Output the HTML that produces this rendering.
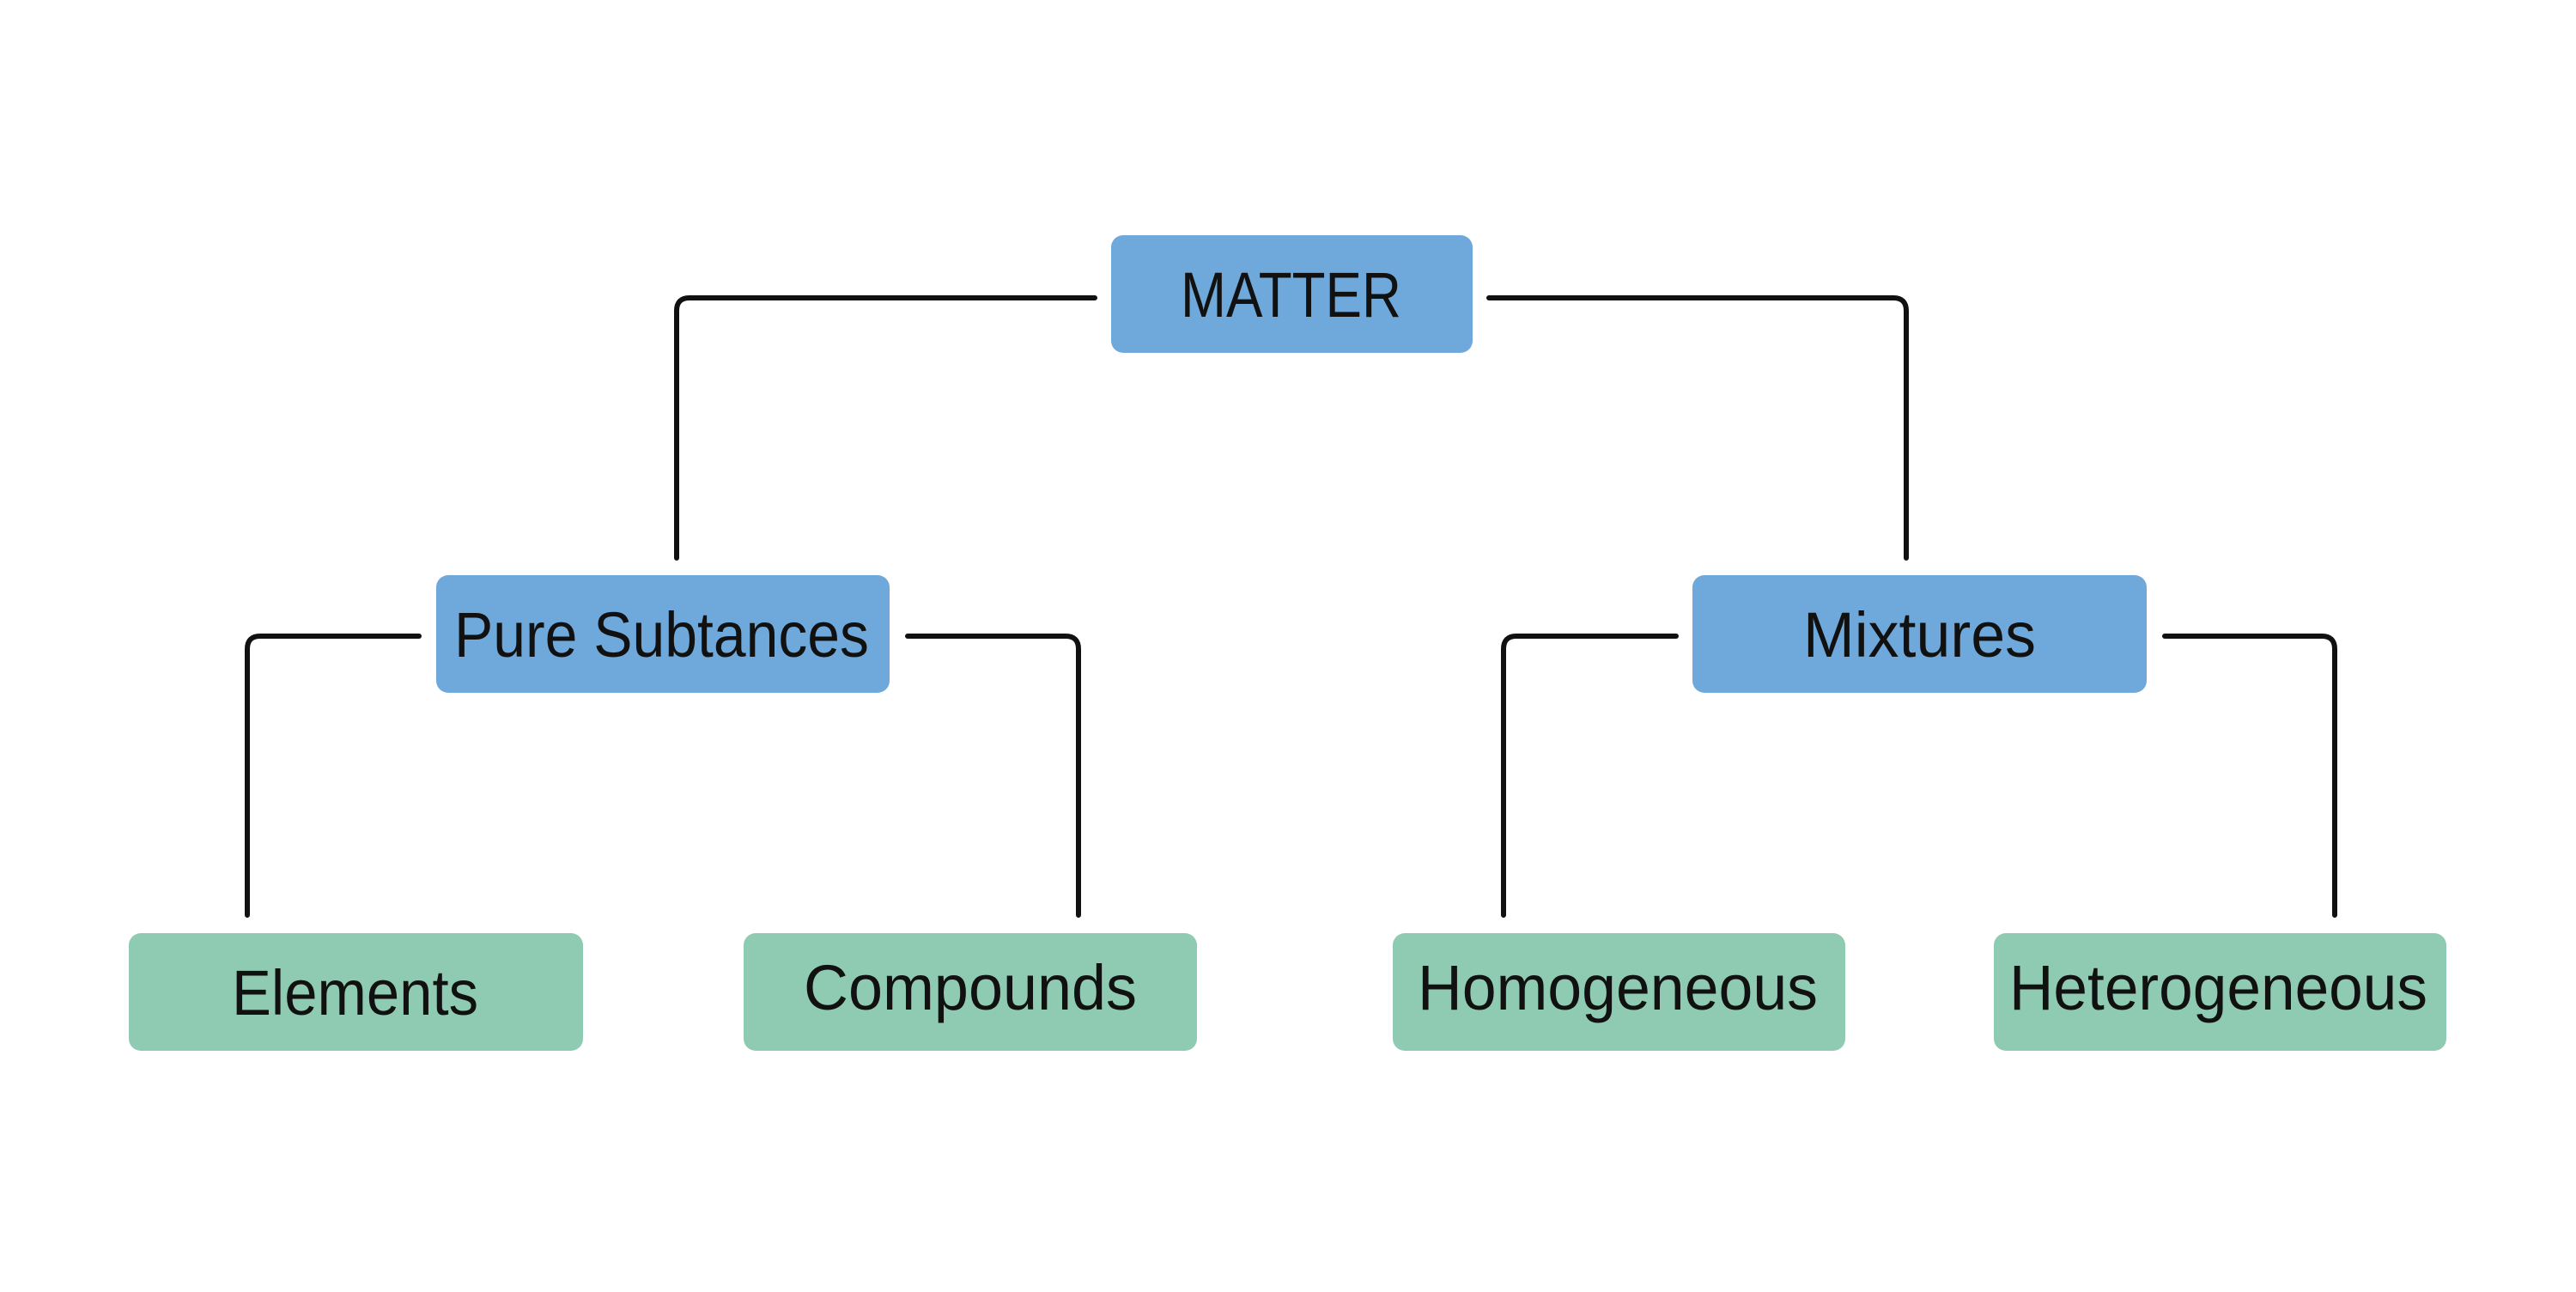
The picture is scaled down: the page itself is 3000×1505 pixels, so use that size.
<!DOCTYPE html>
<html><head><meta charset="utf-8"><style>html,body{margin:0;padding:0;background:#fff}</style></head>
<body>
<svg width="3000" height="1500" viewBox="0 0 3000 1500" xmlns="http://www.w3.org/2000/svg">
<g fill="none" stroke="#111" stroke-width="6" stroke-linecap="round" stroke-linejoin="round">
<path d="M1275 347 H803 Q788 347 788 362 V650"/>
<path d="M1734 347 H2205 Q2220 347 2220 362 V650"/>
<path d="M488 741 H303 Q288 741 288 756 V1066"/>
<path d="M1057 741 H1241 Q1256 741 1256 756 V1066"/>
<path d="M1952 741 H1766 Q1751 741 1751 756 V1066"/>
<path d="M2521 741 H2704 Q2719 741 2719 756 V1066"/>
</g>
<g fill="#6fa9db">
<rect x="1294" y="274" width="421" height="137" rx="14"/>
<rect x="508" y="670" width="528" height="137" rx="14"/>
<rect x="1971" y="670" width="529" height="137" rx="14"/>
</g>
<g fill="#8fcbb2">
<rect x="150" y="1087" width="529" height="137" rx="14"/>
<rect x="866" y="1087" width="528" height="137" rx="14"/>
<rect x="1622" y="1087" width="527" height="137" rx="14"/>
<rect x="2322" y="1087" width="527" height="137" rx="14"/>
</g>
<g font-family="Liberation Sans, sans-serif" font-size="74" fill="#111">
<text x="1375" y="369" textLength="257" lengthAdjust="spacingAndGlyphs">MATTER</text>
<text x="529" y="765" textLength="483" lengthAdjust="spacingAndGlyphs">Pure Subtances</text>
<text x="2100" y="765" textLength="271" lengthAdjust="spacingAndGlyphs">Mixtures</text>
<text x="270" y="1182" textLength="287" lengthAdjust="spacingAndGlyphs">Elements</text>
<text x="936" y="1176" textLength="388" lengthAdjust="spacingAndGlyphs">Compounds</text>
<text x="1651" y="1176" textLength="466" lengthAdjust="spacingAndGlyphs">Homogeneous</text>
<text x="2340" y="1176" textLength="487" lengthAdjust="spacingAndGlyphs">Heterogeneous</text>
</g>
</svg>
</body></html>
